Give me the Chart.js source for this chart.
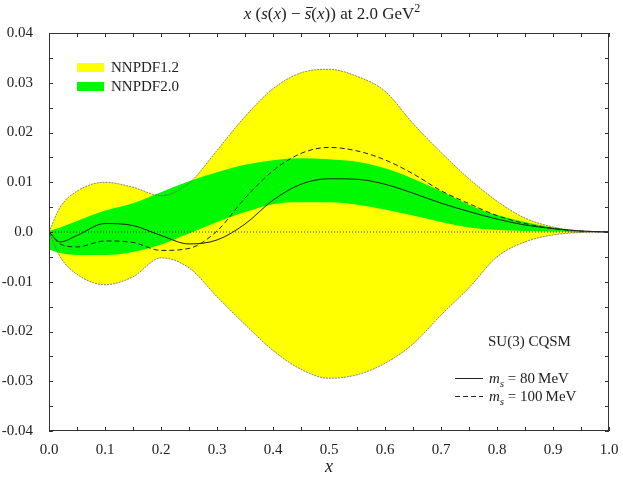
<!DOCTYPE html>
<html>
<head>
<meta charset="utf-8">
<script src="https://cdn.jsdelivr.net/npm/chart.js@4"></script>
<style>
html, body { margin: 0; padding: 0; background: #fff; }
</style>
</head>
<body>
<canvas id="asymChart" width="623" height="479"></canvas>
<script>
// x grid shared by every curve
const xGrid = [0, 0.02, 0.05, 0.1, 0.15, 0.2, 0.25, 0.3, 0.35, 0.4, 0.45, 0.5,
  0.55, 0.6, 0.65, 0.7, 0.75, 0.8, 0.85, 0.9, 0.95, 1.0];

// NNPDF1.2 band (yellow)
const nnpdf12Up = [0, 0.0050, 0.0082, 0.0100, 0.0090, 0.0073, 0.0098, 0.0164, 0.0232, 0.0288,
  0.0320, 0.0327, 0.0313, 0.0283, 0.0218, 0.0160, 0.0107, 0.0062, 0.0028, 0.0010, 0.0002, 0];
const nnpdf12Low = [0, -0.0050, -0.0085, -0.0106, -0.0090, -0.0052, -0.0072, -0.0130, -0.0186,
  -0.0238, -0.0276, -0.0294, -0.0287, -0.0264, -0.0225, -0.0167, -0.0112, -0.0050, -0.0020,
  -0.0006, -0.0001, 0];

// NNPDF2.0 band (green)
const nnpdf20Up = [0.0002, 0.0009, 0.0022, 0.0043, 0.0058, 0.0080, 0.0102, 0.0120, 0.0135, 0.0144,
  0.0148, 0.0146, 0.0141, 0.0128, 0.0107, 0.0082, 0.0055, 0.0034, 0.0020, 0.0009, 0.0002, 0];
const nnpdf20Low = [-0.0035, -0.0042, -0.0046, -0.0046, -0.0040, -0.0025, -0.0003, 0.0020, 0.0040,
  0.0056, 0.0060, 0.0060, 0.0055, 0.0045, 0.0033, 0.0020, 0.0009, 0.0004, 0.0002, 0.0001, 0, 0];

// SU(3) CQSM predictions
const cqsm80 = [0, -0.0020, -0.0007, 0.0017, 0.0013, -0.0007, -0.0024, -0.0016, 0.0016, 0.0064,
  0.0096, 0.0107, 0.0106, 0.0096, 0.0078, 0.0058, 0.0041, 0.0026, 0.0014, 0.0007, 0.0002, 0];
const cqsm100 = [0, -0.0024, -0.0030, -0.0018, -0.0021, -0.0037, -0.0033, 0.0002, 0.0068, 0.0123,
  0.0158, 0.0170, 0.0163, 0.0145, 0.0117, 0.0083, 0.0057, 0.0033, 0.0017, 0.0007, 0.0002, 0];

const zeroX = [0, 1];
const zeroY = [0, 0];

const xTicks = [0, 0.1, 0.2, 0.3, 0.4, 0.5, 0.6, 0.7, 0.8, 0.9, 1.0];
const yTicks = [-0.04, -0.03, -0.02, -0.01, 0, 0.01, 0.02, 0.03, 0.04];

const SERIF = "'Liberation Serif', 'DejaVu Serif', serif";
const YELLOW = "#ffff00";
const GREEN = "#00f800";

function pts(xs, ys) {
  return xs.map((x, i) => ({ x: x, y: ys[i] }));
}

// draws a run of text pieces (italic / sub / sup / bar) starting at x
function drawPieces(ctx, pieces, x, y, size, align) {
  const fontFor = (p) => {
    const s = p.sub || p.sup ? Math.round(size * 0.7) : size;
    return (p.i ? "italic " : "") + s + "px " + SERIF;
  };
  let total = 0;
  pieces.forEach(p => { ctx.font = fontFor(p); total += ctx.measureText(p.t).width; });
  let cx = align === "center" ? x - total / 2 : x;
  ctx.textBaseline = "alphabetic";
  ctx.textAlign = "left";
  pieces.forEach(p => {
    ctx.font = fontFor(p);
    let dy = 0;
    if (p.sub) dy = size * 0.25;
    if (p.sup) dy = -size * 0.4;
    ctx.fillText(p.t, cx, y + dy);
    const w = ctx.measureText(p.t).width;
    if (p.bar) {
      ctx.fillRect(cx + 1.5, Math.round(y - size * 0.68), w, 1);
    }
    cx += w;
  });
}

const decorPlugin = {
  id: "decor",
  afterDatasetsDraw(chart) {
    const ctx = chart.ctx;
    const a = chart.chartArea;
    const xs = chart.scales.x;
    const ys = chart.scales.y;
    ctx.save();
    ctx.strokeStyle = "#333";
    ctx.lineWidth = 1;
    ctx.strokeRect(a.left + 0.5, a.top + 0.5, a.right - a.left - 1, a.bottom - a.top - 1);
    ctx.beginPath();
    for (let k = 0; k <= 20; k++) {
      const px = Math.round(xs.getPixelForValue(k * 0.05)) + 0.5;
      ctx.moveTo(px, a.bottom); ctx.lineTo(px, a.bottom - 4);
      ctx.moveTo(px, a.top); ctx.lineTo(px, a.top + 4);
    }
    for (let k = -8; k <= 8; k++) {
      const py = Math.round(ys.getPixelForValue(k * 0.005)) + 0.5;
      ctx.moveTo(a.left, py); ctx.lineTo(a.left + 4, py);
      ctx.moveTo(a.right, py); ctx.lineTo(a.right - 4, py);
    }
    ctx.stroke();
    ctx.restore();
  },
  afterDraw(chart) {
    const ctx = chart.ctx;
    const a = chart.chartArea;
    ctx.save();
    ctx.fillStyle = "#222";
    ctx.strokeStyle = "#222";

    // title
    drawPieces(ctx, [
      { t: "x", i: true }, { t: " (" }, { t: "s", i: true }, { t: "(" }, { t: "x", i: true },
      { t: ") \u2212 " }, { t: "s", i: true, bar: true }, { t: "(" }, { t: "x", i: true },
      { t: "))" }, { t: " at 2.0 GeV" }, { t: "2", sup: true }
    ], (a.left + a.right) / 2 + 3, 19, 17, "center");

    // band legend
    const bands = [["NNPDF1.2", YELLOW], ["NNPDF2.0", GREEN]];
    bands.forEach((b, k) => {
      const y = 63 + k * 19;
      ctx.fillStyle = b[1];
      ctx.fillRect(77, y, 27, 9);
      ctx.fillStyle = "#222";
      ctx.font = "15px " + SERIF;
      ctx.textBaseline = "middle";
      ctx.fillText(b[0], 111, y + 5);
    });

    // model legend
    ctx.font = "15px " + SERIF;
    ctx.textBaseline = "alphabetic";
    ctx.fillText("SU(3) CQSM", 488, 346);
    const models = [["80", []], ["100", [5, 3]]];
    models.forEach((m, k) => {
      const y = 378 + k * 18;
      ctx.beginPath();
      ctx.setLineDash(m[1]);
      ctx.lineWidth = 1;
      ctx.moveTo(455, y + 0.5);
      ctx.lineTo(483, y + 0.5);
      ctx.stroke();
      ctx.setLineDash([]);
      drawPieces(ctx, [
        { t: "m", i: true }, { t: "s", i: true, sub: true }, { t: " = " + m[0] + "\u2009MeV" }
      ], 489, y + 5, 15, "left");
    });

    // x axis title
    ctx.font = "italic 18px " + SERIF;
    ctx.textAlign = "center";
    ctx.textBaseline = "middle";
    ctx.fillText("x", (a.left + a.right) / 2, 467);
    ctx.restore();
  }
};

const ctx = document.getElementById("asymChart");
const asymChart = new Chart(ctx, {
  type: "line",
  data: {
    datasets: [
      {
        label: "NNPDF1.2",
        data: pts(xGrid, nnpdf12Up),
        borderColor: "#666",
        borderWidth: 0.8,
        borderDash: [2, 1],
        backgroundColor: YELLOW,
        fill: "+1",
        order: 6,
      },
      {
        label: "NNPDF1.2 low",
        data: pts(xGrid, nnpdf12Low),
        borderColor: "#666",
        borderWidth: 0.8,
        borderDash: [2, 1],
        fill: false,
        order: 6,
      },
      {
        label: "NNPDF2.0",
        data: pts(xGrid, nnpdf20Up),
        borderWidth: 0,
        borderColor: GREEN,
        backgroundColor: GREEN,
        fill: "+1",
        order: 5,
      },
      {
        label: "NNPDF2.0 low",
        data: pts(xGrid, nnpdf20Low),
        borderWidth: 0,
        borderColor: GREEN,
        fill: false,
        order: 5,
      },
      {
        label: "zero",
        data: pts(zeroX, zeroY),
        borderColor: "#333",
        borderWidth: 1,
        borderDash: [1, 2],
        fill: false,
        order: 3,
      },
      {
        label: "m_s = 80 MeV",
        data: pts(xGrid, cqsm80),
        borderColor: "#222",
        borderWidth: 1,
        fill: false,
        order: 2,
      },
      {
        label: "m_s = 100 MeV",
        data: pts(xGrid, cqsm100),
        borderColor: "#222",
        borderWidth: 1,
        borderDash: [5, 3],
        fill: false,
        order: 1,
      },
    ],
  },
  options: {
    responsive: false,
    animation: false,
    devicePixelRatio: 1,
    layout: { padding: { top: 33, right: 14, bottom: 0, left: 0 } },
    elements: {
      point: { radius: 0 },
      line: { cubicInterpolationMode: "monotone" },
    },
    plugins: {
      legend: { display: false },
      tooltip: { enabled: false },
      filler: { drawTime: "beforeDatasetsDraw" },
    },
    scales: {
      x: {
        type: "linear",
        min: 0,
        max: 1,
        afterBuildTicks: (s) => { s.ticks = xTicks.map(v => ({ value: v })); },
        ticks: {
          callback: (v) => v.toFixed(1),
          font: { family: SERIF, size: 15 },
          color: "#222",
          padding: 2,
          maxRotation: 0,
        },
        grid: { display: false },
        border: { display: false },
        afterFit: (s) => { s.height = 48; },
      },
      y: {
        type: "linear",
        min: -0.04,
        max: 0.04,
        afterBuildTicks: (s) => { s.ticks = yTicks.map(v => ({ value: v })); },
        ticks: {
          callback: (v) => (Math.abs(v) < 1e-9 ? "0.0" : v.toFixed(2)),
          font: { family: SERIF, size: 15 },
          color: "#222",
          padding: 8,
        },
        grid: { display: false },
        border: { display: false },
        afterFit: (s) => { s.width = 49; },
      },
    },
  },
  plugins: [decorPlugin],
});
</script>
</body>
</html>
